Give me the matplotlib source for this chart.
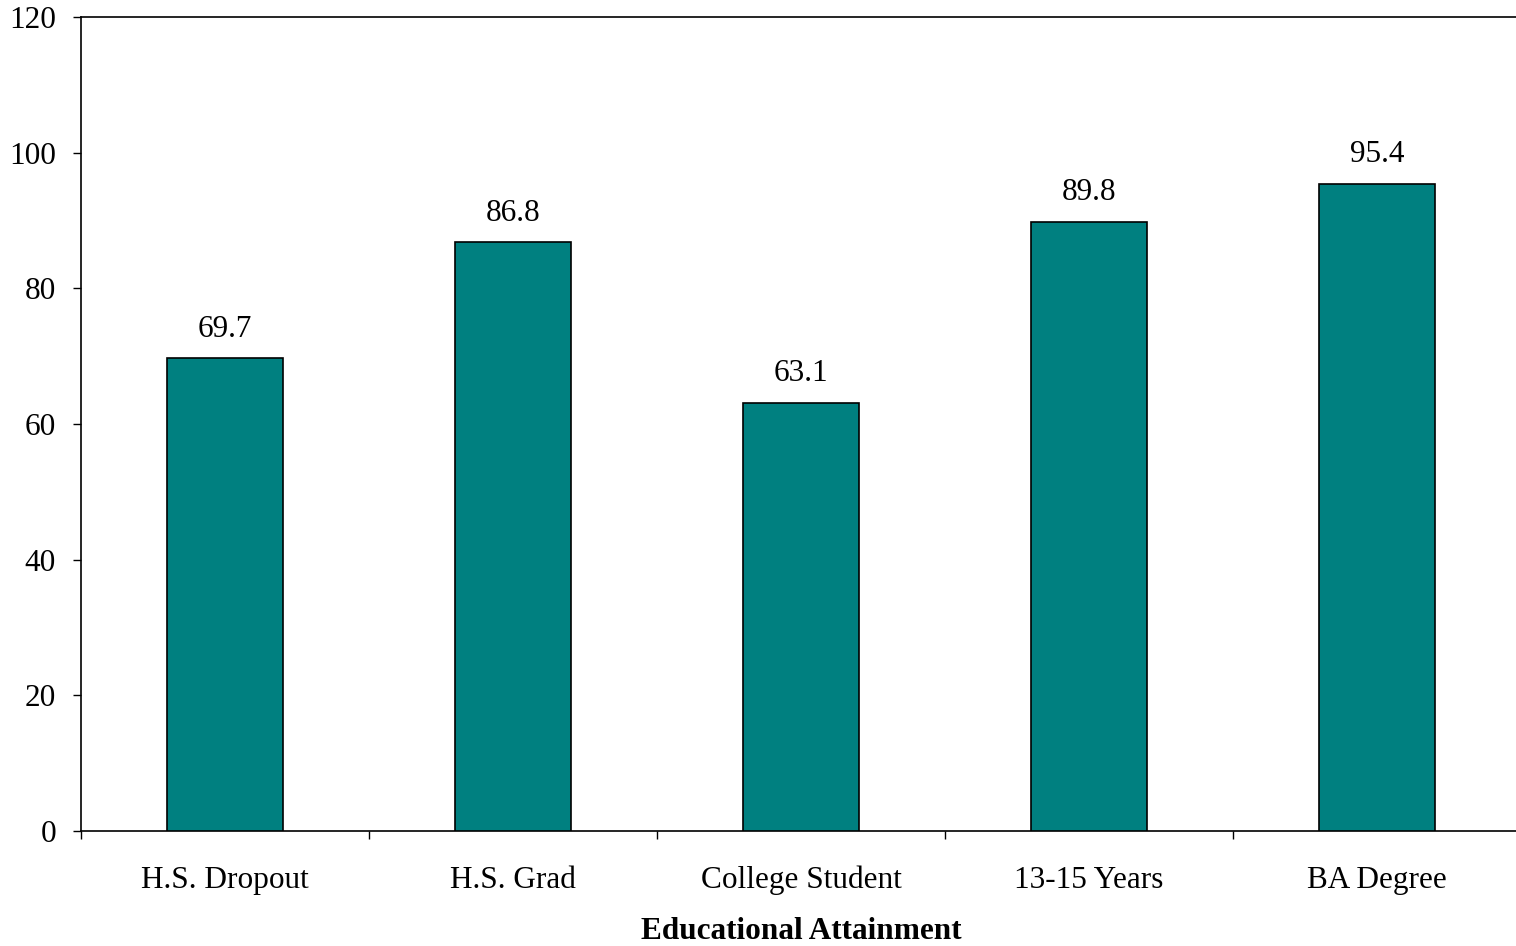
import matplotlib
matplotlib.use("Agg")
import matplotlib.pyplot as plt
import numpy as np

categories = ["H.S. Dropout", "H.S. Grad", "College Student", "13-15 Years", "BA Degree"]
values = [69.7, 86.8, 63.1, 89.8, 95.4]
yticks = [0, 20, 40, 60, 80, 100, 120]

plt.rcParams['font.family'] = ['Liberation Serif', 'DejaVu Serif']

fig = plt.figure(figsize=(15.16, 9.46), dpi=100)
ax = fig.add_axes([81/1516, 115/946, 1440/1516, 814/946])

x = np.arange(len(categories))
ax.bar(x, values, width=0.40, color='#008080', edgecolor='black', linewidth=1.2, zorder=3)

for xi, v in zip(x, values):
    ax.annotate(f"{v:.1f}", (xi, v), xytext=(0, 21), textcoords='offset points',
                ha='center', va='center', fontsize=22.5)

ax.set_xlim(-0.5, len(categories) - 0.5)
ax.set_ylim(0, 120)
ax.set_yticks(yticks)
ax.set_yticklabels([str(t) for t in yticks])
ax.set_xticks(x)
ax.set_xticklabels(categories)
ax.set_xticks(np.arange(-0.5, len(categories), 1.0), minor=True)

ax.tick_params(axis='x', which='major', length=0, pad=25, labelsize=22.5)
ax.tick_params(axis='x', which='minor', length=6, width=1, direction='out')
ax.tick_params(axis='y', which='major', length=6, width=1, direction='out', pad=12, labelsize=22.5)

ax.spines['right'].set_visible(False)
for s in ['left', 'bottom', 'top']:
    ax.spines[s].set_linewidth(1.2)

ax.set_xlabel("Educational Attainment", fontsize=22.5, fontweight='bold', labelpad=16)

fig.savefig("out.png", dpi=100)
